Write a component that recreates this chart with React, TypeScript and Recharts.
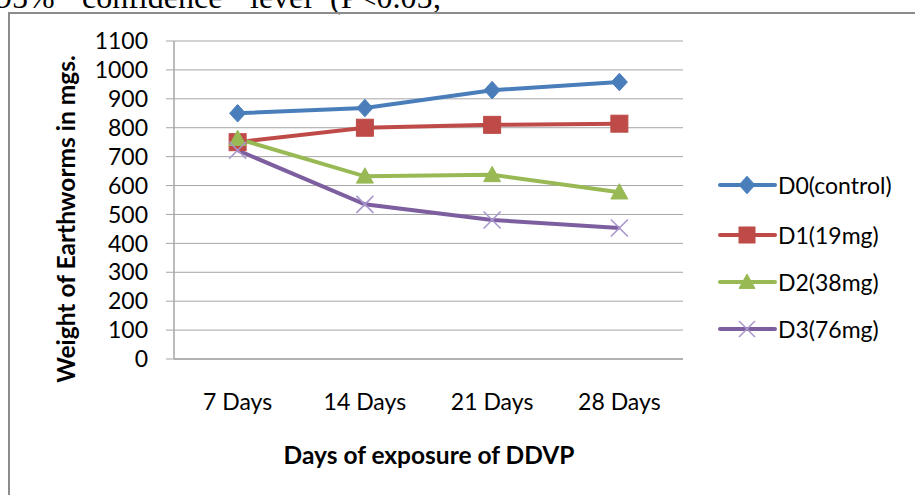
import React from "react";
import { LineChart, Line, XAxis, YAxis, CartesianGrid, Legend } from "recharts";

const categories = ["7 Days", "14 Days", "21 Days", "28 Days"];
const d0Values = [850, 868, 930, 958];
const d1Values = [750, 800, 810, 814];
const d2Values = [762, 632, 637, 577];
const d3Values = [722, 535, 481, 453];
const yTicks = [0, 100, 200, 300, 400, 500, 600, 700, 800, 900, 1000, 1100];
const seriesNames = ["D0(control)", "D1(19mg)", "D2(38mg)", "D3(76mg)"];

const data = categories.map((c, i) => ({
  day: c,
  d0: d0Values[i],
  d1: d1Values[i],
  d2: d2Values[i],
  d3: d3Values[i],
}));

type Shape = "diamond" | "square" | "triangle" | "x";

const SERIES: { key: string; name: string; color: string; shape: Shape }[] = [
  { key: "d0", name: seriesNames[0], color: "#4a7ebb", shape: "diamond" },
  { key: "d1", name: seriesNames[1], color: "#be4b48", shape: "square" },
  { key: "d2", name: seriesNames[2], color: "#98b954", shape: "triangle" },
  { key: "d3", name: seriesNames[3], color: "#7d5fa0", shape: "x" },
];

const FONT = "Lato, 'Open Sans', sans-serif";
const TICK_SIZE = 23;
const TITLE_SIZE = 24.5;

function marker(shape: Shape, color: string, cx: number, cy: number, s: number, key?: string | number) {
  const h = s / 2;
  if (shape === "diamond") {
    return (
      <path key={key} d={`M${cx},${cy - h * 1.1} L${cx + h},${cy} L${cx},${cy + h * 1.1} L${cx - h},${cy} Z`} fill={color} stroke={color} strokeWidth={1} />
    );
  }
  if (shape === "square") {
    return <rect key={key} x={cx - h} y={cy - h} width={s} height={s} fill={color} stroke={color} strokeWidth={1} />;
  }
  if (shape === "triangle") {
    return (
      <path key={key} d={`M${cx},${cy - h} L${cx + h},${cy + h * 0.8} L${cx - h},${cy + h * 0.8} Z`} fill={color} stroke={color} strokeWidth={1} />
    );
  }
  return (
    <g key={key}>
      <line x1={cx - h} y1={cy - h} x2={cx + h} y2={cy + h} stroke="#a996cc" strokeWidth={1.6} />
      <line x1={cx - h} y1={cy + h} x2={cx + h} y2={cy - h} stroke="#a996cc" strokeWidth={1.6} />
    </g>
  );
}

function makeDot(shape: Shape, color: string, size: number) {
  return (props: any) => {
    const { cx, cy, index } = props;
    if (cx == null || cy == null) return <g key={index} />;
    return marker(shape, color, cx, cy, size, index);
  };
}

const legendRows = [20, 70, 117, 164];

function LegendContent() {
  return (
    <svg width={200} height={190} style={{ overflow: "visible" }}>
      {SERIES.map((s, i) => {
        const y = legendRows[i];
        return (
          <g key={s.key}>
            <line x1={5} y1={y} x2={60} y2={y} stroke={s.color} strokeWidth={4} strokeLinecap="round" />
            {marker(s.shape, s.color, 32, y, 16)}
            <text x={63} y={y} dominantBaseline="central" fontFamily={FONT} fontSize={TICK_SIZE} fill="#000">
              {s.name}
            </text>
          </g>
        );
      })}
    </svg>
  );
}

export default function App() {
  const wordStyle: React.CSSProperties = {
    position: "absolute",
    top: -19,
    fontFamily: "'Liberation Serif', 'Times New Roman', serif",
    fontSize: 32,
    lineHeight: "32px",
    color: "#000",
    whiteSpace: "nowrap",
  };
  return (
    <div style={{ position: "absolute", left: 0, top: 0, width: 915, height: 495, overflow: "hidden", background: "#fff" }}>
      <span style={{ ...wordStyle, left: -4 }}>95%</span>
      <span style={{ ...wordStyle, left: 82 }}>confidence</span>
      <span style={{ ...wordStyle, left: 250 }}>level</span>
      <span style={{ ...wordStyle, left: 330 }}>(P&lt;0.05;</span>
      <div
        style={{
          position: "absolute",
          left: 8,
          top: 12,
          width: 1000,
          height: 1000,
          border: "2px solid #8c8c8c",
          boxSizing: "border-box",
        }}
      />
      <div style={{ position: "absolute", left: 0, top: 0 }}>
        <LineChart width={915} height={495} data={data} margin={{ top: 41, right: 232, bottom: 76, left: 74 }}>
          <CartesianGrid horizontal vertical={false} stroke="#a6a6a6" strokeWidth={1} />
          <XAxis
            dataKey="day"
            scale="band"
            height={60}
            tickSize={0}
            tickMargin={35}
            axisLine={{ stroke: "#a6a6a6", strokeWidth: 1.5 }}
            tickLine={false}
            tick={{ fontFamily: FONT, fontSize: TICK_SIZE, fill: "#000" }}
            interval={0}
          />
          <YAxis
            width={100}
            domain={[0, 1100]}
            ticks={yTicks}
            interval={0}
            tickSize={8}
            tickMargin={18}
            axisLine={{ stroke: "#a6a6a6", strokeWidth: 1.5 }}
            tickLine={{ stroke: "#a6a6a6" }}
            tick={{ fontFamily: FONT, fontSize: TICK_SIZE, fill: "#000" }}
          />
          <Legend
            layout="vertical"
            align="center"
            verticalAlign="middle"
            content={() => <LegendContent />}
            wrapperStyle={{ left: 715, top: 165, width: 200, height: 190 }}
          />
          {SERIES.map((s) => (
            <Line
              key={s.key}
              dataKey={s.key}
              name={s.name}
              stroke={s.color}
              strokeWidth={4}
              dot={makeDot(s.shape, s.color, s.shape === "diamond" ? 16 : 17)}
              activeDot={false}
              isAnimationActive={false}
            />
          ))}
        </LineChart>
      </div>
      <div
        style={{
          position: "absolute",
          left: 65,
          top: 219,
          transform: "translate(-50%, -50%) rotate(-90deg)",
          fontFamily: FONT,
          fontWeight: 700,
          fontSize: TITLE_SIZE,
          whiteSpace: "nowrap",
          color: "#000",
        }}
      >
        Weight of Earthworms in mgs.
      </div>
      <div
        style={{
          position: "absolute",
          left: 429,
          top: 454,
          transform: "translate(-50%, -50%)",
          fontFamily: FONT,
          fontWeight: 700,
          fontSize: TITLE_SIZE,
          whiteSpace: "nowrap",
          color: "#000",
        }}
      >
        Days of exposure of DDVP
      </div>
    </div>
  );
}
